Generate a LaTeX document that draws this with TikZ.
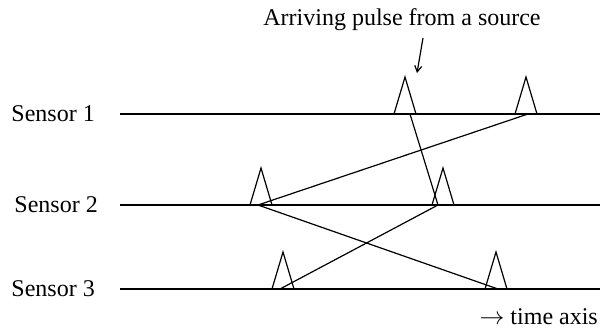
\documentclass[tikz,border=0pt]{standalone}
\usepackage{fontspec}
\setmainfont{Liberation Serif}
\usetikzlibrary{arrows.meta,positioning}
\tikzset{
  axisline/.style={line width=1.4pt,black},
  pulse/.style={line width=1.2pt,black,line join=miter},
  delay/.style={line width=1.2pt,black},
  lbl/.style={font=\fontsize{24}{28}\selectfont,inner sep=0pt}
}

\begin{document}
\begin{tikzpicture}[x=1pt,y=-1pt]
\useasboundingbox (0,0) rectangle (603,335);
% sensor rows
\foreach \n/\lx/\y in {1/95/114,2/98/205,3/95/289}{
  \node[lbl,anchor=base east] (s\n) at (\lx,\y+7) {Sensor \n};
  \coordinate (a\n) at (120,\y);
  \coordinate (b\n) at (600,\y);
  \draw[axisline] (a\n) -- (b\n);
}
% pulses
\foreach \nm/\x/\y/\dx in {p11/405/114/5,p12/526/114/2,p21/261/205/-3,p22/443/205/-5,p31/283/289/-3,p32/496/289/2}{
  \draw[pulse] (\x-11,\y) -- (\x,\y-37) -- (\x+11,\y);
  \coordinate (\nm) at (\x+\dx,\y);
}
% arrival paths
\draw[delay] (p11) -- (p22);
\draw[delay] (p12) -- (p21);
\draw[delay] (p21) -- (p32);
\draw[delay] (p22) -- (p31);
% captions
\node[lbl,anchor=base] (src) at (402,25) {Arriving pulse from a source};
\coordinate (tail) at (423,38);
\coordinate (head) at (417,73);
\draw[line width=1.2pt,-{Straight Barb[length=6pt,width=7pt]}] (tail) -- (head);
\node[lbl,anchor=base east] (time) at (598,324) {$\rightarrow$ time axis};
\end{tikzpicture}
\end{document}
